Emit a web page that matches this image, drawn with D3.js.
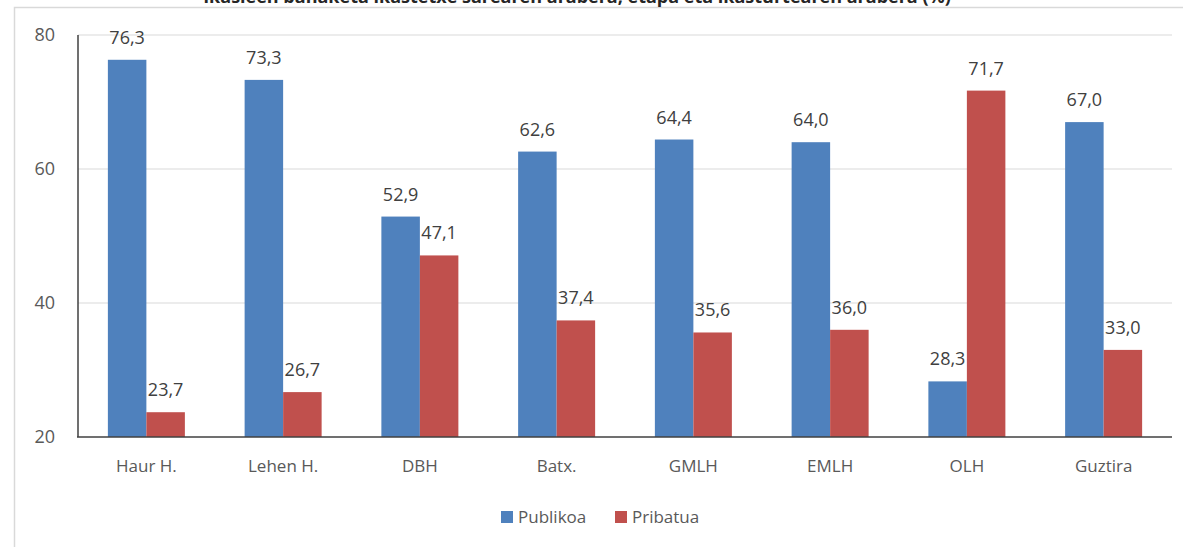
<!DOCTYPE html>
<html>
<head>
<meta charset="utf-8">
<script src="https://cdn.jsdelivr.net/npm/d3@7"></script>
<style>
  html, body { margin: 0; padding: 0; background: #fff; }
  svg { display: block; }
  text { font-family: "Open Sans", "Noto Sans", sans-serif; }
</style>
</head>
<body>
<svg id="chart" width="1183" height="547"></svg>
<script>
const categories = ["Haur H.", "Lehen H.", "DBH", "Batx.", "GMLH", "EMLH", "OLH", "Guztira"];
const seriesNames = ["Publikoa", "Pribatua"];
const publikoa = [76.3, 73.3, 52.9, 62.6, 64.4, 64.0, 28.3, 67.0];
const pribatua = [23.7, 26.7, 47.1, 37.4, 35.6, 36.0, 71.7, 33.0];
const yTicks = [20, 40, 60, 80];
const titleText = "Ikasleen banaketa ikastetxe sarearen arabera, etapa eta ikasturtearen arabera (%)";

const colors = { "Publikoa": "#4f81bd", "Pribatua": "#c0504d" };
const svg = d3.select("#chart");

// frame
svg.append("rect").attr("x", 14.5).attr("y", 7.5).attr("width", 1300).attr("height", 700)
  .attr("fill", "none").attr("stroke", "#d9d9d9").attr("stroke-width", 1.5);

// title (cut off by the top edge, as in the reference)
svg.append("text").attr("x", 577).attr("y", 3).attr("text-anchor", "middle")
  .attr("font-size", 18).attr("font-weight", "bold").attr("fill", "#262626").text(titleText);

const x0 = d3.scaleBand().domain(categories).range([78, 1172]).padding(0);
const x1 = d3.scaleBand().domain(seriesNames).range([0, x0.bandwidth()]).paddingInner(0).paddingOuter(0.776);
const y = d3.scaleLinear().domain([20, 80]).range([437, 35]);

// gridlines
svg.append("g").selectAll("line").data(yTicks.filter(t => t > 20)).join("line")
  .attr("x1", 78).attr("x2", 1172).attr("y1", d => y(d)).attr("y2", d => y(d))
  .attr("stroke", "#d9d9d9").attr("stroke-width", 1);

// y tick labels
svg.append("g").selectAll("text").data(yTicks).join("text")
  .attr("x", 55).attr("y", d => y(d)).attr("dy", "0.36em").attr("text-anchor", "end")
  .attr("font-size", 18).attr("fill", "#595959").text(d => d);

const data = categories.map((c, i) => ({ cat: c, vals: [
  { s: "Publikoa", v: publikoa[i] }, { s: "Pribatua", v: pribatua[i] } ] }));

const groups = svg.append("g").selectAll("g").data(data).join("g")
  .attr("transform", d => `translate(${x0(d.cat)},0)`);

groups.selectAll("rect").data(d => d.vals).join("rect")
  .attr("x", d => x1(d.s)).attr("width", x1.bandwidth())
  .attr("y", d => y(d.v)).attr("height", d => y(20) - y(d.v))
  .attr("fill", d => colors[d.s]);

groups.selectAll("text.val").data(d => d.vals).join("text").attr("class", "val")
  .attr("x", d => x1(d.s) + x1.bandwidth() / 2).attr("y", d => y(d.v) - 16)
  .attr("text-anchor", "middle").attr("font-size", 18).attr("fill", "#404040")
  .text(d => d3.format(".1f")(d.v).replace(".", ","));

// axes lines
svg.append("line").attr("x1", 78).attr("x2", 78).attr("y1", 35).attr("y2", 437)
  .attr("stroke", "#404040").attr("stroke-width", 1.5);
svg.append("line").attr("x1", 77).attr("x2", 1172).attr("y1", 437).attr("y2", 437)
  .attr("stroke", "#404040").attr("stroke-width", 1.5);

// category labels
svg.append("g").selectAll("text").data(categories).join("text")
  .attr("x", d => x0(d) + x0.bandwidth() / 2).attr("y", 472).attr("text-anchor", "middle")
  .attr("font-size", 17).attr("fill", "#595959").text(d => d);

// legend
const legend = svg.append("g");
const legendX = [501, 615];
seriesNames.forEach((s, i) => {
  legend.append("rect").attr("x", legendX[i]).attr("y", 511).attr("width", 12).attr("height", 12).attr("fill", colors[s]);
  legend.append("text").attr("x", legendX[i] + 17).attr("y", 523).attr("font-size", 17)
    .attr("fill", "#595959").text(s);
});
</script>
</body>
</html>
